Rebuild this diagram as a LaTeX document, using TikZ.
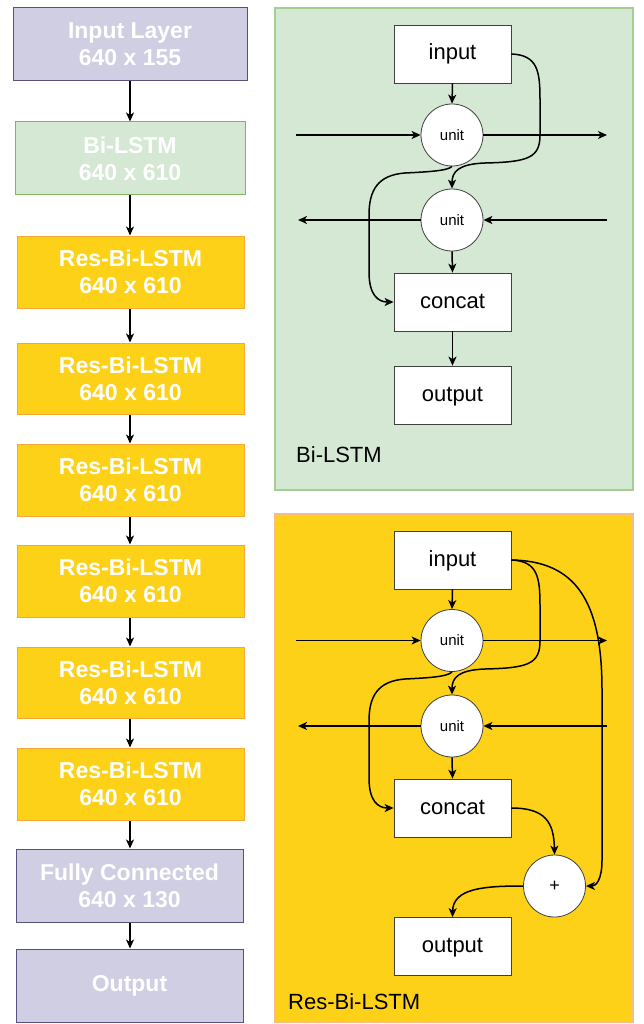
\documentclass[tikz,border=0pt]{standalone}
\usepackage{fontspec}
\setmainfont{Liberation Sans}
\usetikzlibrary{arrows.meta}
\definecolor{lavfill}{HTML}{D0CEE2}
\definecolor{lavdraw}{HTML}{56517E}
\definecolor{grfill}{HTML}{D5E8D4}
\definecolor{grdraw}{HTML}{82B366}
\definecolor{grpanel}{HTML}{A6CE93}
\definecolor{yefill}{HTML}{FDD117}
\definecolor{yedraw}{HTML}{F7A833}
\definecolor{yepanel}{HTML}{F6BC8E}
\tikzset{
  layer/.style={rectangle, line width=1pt, minimum width=227pt, minimum height=72pt,
    text=white, align=center, inner sep=0pt,
    font=\fontsize{23}{27}\selectfont\bfseries},
  lav/.style={layer, fill=lavfill, draw=lavdraw},
  grn/.style={layer, fill=grfill, draw=grdraw},
  yel/.style={layer, fill=yefill, draw=yedraw},
  wbox/.style={rectangle, draw=black!75, line width=0.8pt, fill=white, minimum width=117pt,
    minimum height=58pt, inner sep=0pt, text height=14pt, text depth=2pt,
    font=\fontsize{22}{26}\selectfont},
  unitc/.style={circle, draw=black!75, line width=0.8pt, fill=white, minimum size=62pt,
    inner sep=0pt, font=\fontsize{15}{18}\selectfont},
  arr/.style={-{Stealth[length=9pt,width=8pt,inset=2.5pt]}, line width=1.5pt, black},
  lbl/.style={anchor=west, inner sep=0pt, font=\fontsize{22}{26}\selectfont},
}
\begin{document}
\begin{tikzpicture}[x=1pt,y=-1pt]
\useasboundingbox (0,0) rectangle (644,1024);
% left column
\node[lav, minimum width=234pt, minimum height=73pt] (L0) at (130,44.5) {Input Layer\\640 x 155};
\node[grn, minimum width=230pt, minimum height=73pt] (L1) at (130,158.5) {Bi-LSTM\\640 x 610};
\node[yel] (L2) at (130.5,272) {Res-Bi-LSTM\\640 x 610};
\node[yel, minimum height=71pt] (L3) at (130.5,378.5) {Res-Bi-LSTM\\640 x 610};
\node[yel] (L4) at (130.5,480) {Res-Bi-LSTM\\640 x 610};
\node[yel] (L5) at (130.5,581) {Res-Bi-LSTM\\640 x 610};
\node[yel, minimum height=71pt] (L6) at (130.5,682.5) {Res-Bi-LSTM\\640 x 610};
\node[yel] (L7) at (130.5,784) {Res-Bi-LSTM\\640 x 610};
\node[lav, minimum height=73pt] (L8) at (129.5,885.5) {Fully Connected\\640 x 130};
\node[lav, minimum height=73pt] (L9) at (129.5,985.5) {Output};
\foreach \a/\b in {L0/L1,L1/L2,L2/L3,L3/L4,L4/L5,L5/L6,L6/L7,L7/L8,L8/L9}
  \draw[arr] (\a.south -| 130,0) -- (\b.north -| 130,0);

% top panel (Bi-LSTM)
\node[rectangle, draw=grpanel, fill=grfill, line width=1.2pt, minimum width=358pt, minimum height=482pt, inner sep=0pt] (P1) at (454,249) {};
\node[wbox] (in1) at (452.5,54) {input};
\node[unitc] (ua1) at (452,135) {unit};
\node[unitc] (ub1) at (452,220) {unit};
\node[wbox] (cc1) at (452.5,302) {concat};
\node[wbox] (out1) at (452.5,395) {output};
\node[lbl] (t1) at (296,455) {Bi-LSTM};
\coordinate (la1) at (296,135);
\coordinate (ra1) at (607,135);
\coordinate (lb1) at (298,220);
\coordinate (rb1) at (607,220);
\draw[arr] (in1.south) -- (ua1.north);
\draw[arr] (la1) -- (ua1.west);
\draw[arr] (ua1.east) -- (ra1);
\draw[arr] (rb1) -- (ub1.east);
\draw[arr] (ub1.west) -- (lb1);
\draw[arr] (ub1.south) -- (cc1.north);
\draw[arr] (cc1.south) -- (out1.north);
\draw[arr] (in1.east) .. controls (538,55) and (540,72) .. (540,100) -- (540,135)
   .. controls (540,158) and (528,162) .. (485,163) .. controls (458,164) and (452,172) .. (ub1.north);
\draw[arr] (ua1.south) .. controls (448,171) and (425,172) .. (405,173)
   .. controls (378,175) and (369,190) .. (369,215) -- (369,272)
   .. controls (369,295) and (378,302) .. (cc1.west);

% bottom panel (Res-Bi-LSTM)
\node[rectangle, draw=yepanel, fill=yefill, line width=1.2pt, minimum width=358pt, minimum height=508pt, inner sep=0pt] (P2) at (454,768) {};
\node[wbox] (in2) at (452.5,560) {input};
\node[unitc] (ua2) at (452,640.5) {unit};
\node[unitc] (ub2) at (452,726) {unit};
\node[wbox] (cc2) at (452.5,808) {concat};
\node[unitc, font=\fontsize{18}{20}\selectfont] (pl2) at (554.5,886) {+};
\node[wbox] (out2) at (452.5,946.5) {output};
\node[lbl] (t2) at (288,1002) {Res-Bi-LSTM};
\coordinate (la2) at (296,640.5);
\coordinate (ra2) at (607,640.5);
\coordinate (lb2) at (298,726);
\coordinate (rb2) at (607,726);
\draw[arr] (in2.south) -- (ua2.north);
\draw[arr] (la2) -- (ua2.west);
\draw[arr] (ua2.east) -- (ra2);
\draw[arr] (rb2) -- (ub2.east);
\draw[arr] (ub2.west) -- (lb2);
\draw[arr] (ub2.south) -- (cc2.north);
\draw[arr] (in2.east) .. controls (538,561) and (540,578) .. (540,606) -- (540,641)
   .. controls (540,664) and (528,668) .. (485,669) .. controls (458,670) and (452,678) .. (ub2.north);
\draw[arr] (ua2.south) .. controls (448,677) and (425,678) .. (405,679)
   .. controls (378,681) and (369,696) .. (369,721) -- (369,778)
   .. controls (369,801) and (378,808) .. (cc2.west);
\draw[arr] (in2.east) .. controls (575,561) and (602,600) .. (602,690) -- (602,860)
   .. controls (602,880) and (596,886) .. (pl2.east);
\draw[arr] (cc2.east) .. controls (545,808) and (554,822) .. (pl2.north);
\draw[arr] (pl2.west) .. controls (485,886) and (453,888) .. (out2.north);
\end{tikzpicture}
\end{document}
